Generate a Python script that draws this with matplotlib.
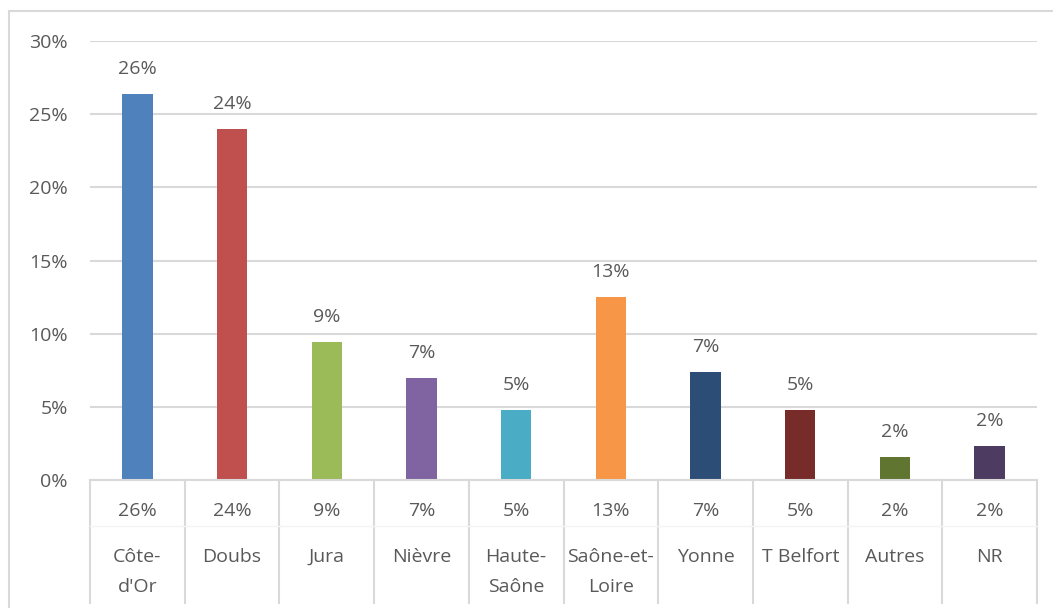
import matplotlib.pyplot as plt
from matplotlib.patches import Rectangle
from matplotlib.ticker import PercentFormatter

# données
departements = ["Côte-\nd'Or", "Doubs", "Jura", "Nièvre", "Haute-\nSaône",
                "Saône-et-\nLoire", "Yonne", "T Belfort", "Autres", "NR"]
parts = [0.264, 0.240, 0.094, 0.070, 0.048, 0.125, 0.074, 0.048, 0.016, 0.023]
etiquettes = ["26%", "24%", "9%", "7%", "5%", "13%", "7%", "5%", "2%", "2%"]
couleurs = ["#4F81BD", "#C0504D", "#9BBB59", "#8064A2", "#4BACC6",
            "#F79646", "#2C4D75", "#772C2A", "#5F7530", "#4D3B62"]

plt.rcParams['font.family'] = ['Open Sans', 'DejaVu Sans']
gris_txt = '#595959'
gris_ligne = '#D9D9D9'
taille = 14

W, H = 1053, 608
fig = plt.figure(figsize=(W / 100, H / 100), dpi=100)
ax = fig.add_axes([90 / W, (H - 480) / H, (1037 - 90) / W, (480 - 41) / H])

n = len(parts)
x = list(range(n))
ax.bar(x, parts, width=0.32, color=couleurs, zorder=3)
for xi, v, lab in zip(x, parts, etiquettes):
    ax.annotate(lab, (xi, v), xytext=(0, 18), textcoords='offset points',
                ha='center', va='center', fontsize=taille, color=gris_txt)

ax.set_xlim(-0.5, n - 0.5)
ax.set_ylim(0, 0.30)
ax.set_yticks([0, 0.05, 0.10, 0.15, 0.20, 0.25, 0.30])
ax.yaxis.set_major_formatter(PercentFormatter(1.0, decimals=0))
ax.tick_params(axis='y', length=0, pad=16, labelsize=taille, labelcolor=gris_txt)
ax.set_xticks([])
ax.grid(axis='y', color=gris_ligne, linewidth=1.5, zorder=0)
for s in ax.spines.values():
    s.set_visible(False)

# tableau de données sous l'axe
trans = ax.get_xaxis_transform()
px = 1 / (480 - 41)  # un pixel en coordonnées axes (vertical)
ax.plot([-0.5, n - 0.5], [0, 0], transform=trans, color=gris_ligne,
        linewidth=1.5, clip_on=False, zorder=4)
for i in range(n + 1):
    ax.plot([i - 0.5, i - 0.5], [0, -123 * px], transform=trans,
            color=gris_ligne, linewidth=1.5, clip_on=False)
ax.plot([-0.5, n - 0.5], [-46 * px, -46 * px], transform=trans,
        color='#F4F4F4', linewidth=1, clip_on=False)
for xi, lab, dep in zip(x, etiquettes, departements):
    ax.text(xi, -31 * px, lab, transform=trans, ha='center', va='center',
            fontsize=taille, color=gris_txt)
    for k, ligne in enumerate(dep.split('\n')):
        ax.text(xi, -(77 + 30 * k) * px, ligne, transform=trans,
                ha='center', va='center', fontsize=taille, color=gris_txt)

# cadre extérieur
fig.patches.append(Rectangle((9 / W, -0.1), 1.2, (H - 11) / H + 0.1,
                             transform=fig.transFigure, fill=False,
                             edgecolor=gris_ligne, linewidth=1.5))

fig.savefig('out.png', dpi=100)
